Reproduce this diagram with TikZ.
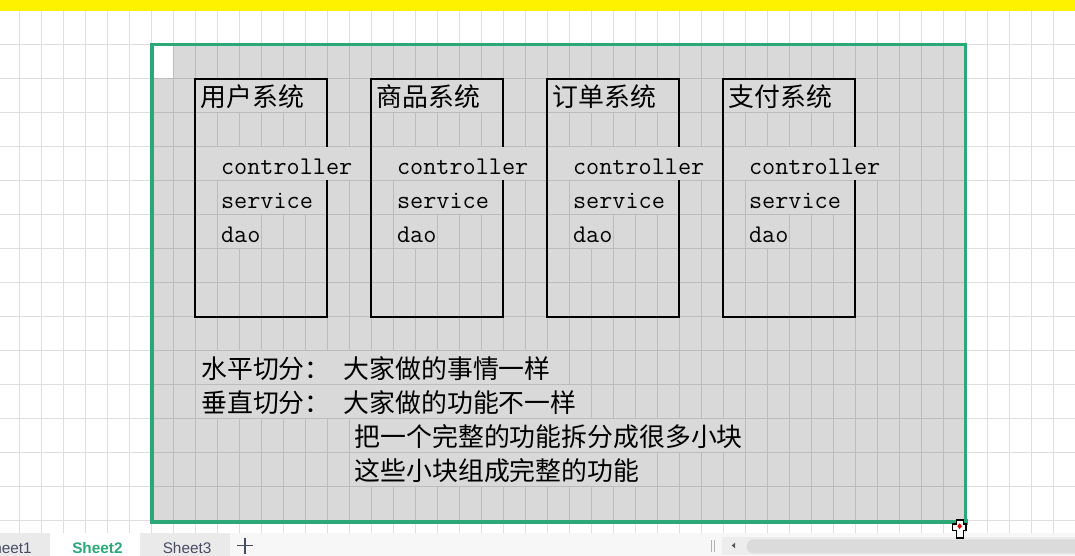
\documentclass[tikz,border=0pt]{standalone}
\usepackage{fontspec}
\newfontfamily\cjk{Noto Sans CJK SC}
\newfontfamily\uifont{Liberation Sans}
\usetikzlibrary{calc}
\definecolor{selgreen}{RGB}{44,167,120}
\definecolor{selgray}{RGB}{217,217,217}
\definecolor{gridlight}{RGB}{222,222,222}
\definecolor{griddark}{RGB}{188,188,188}
\definecolor{tabgray}{RGB}{234,234,234}
\definecolor{barbg}{RGB}{247,247,247}
\definecolor{tabink}{RGB}{72,76,98}
\tikzset{
  % sheet cells and grid
  gridw/.style={draw=gridlight,line width=0.75pt},
  gridg/.style={draw=griddark,line width=0.75pt},
  sysbox/.style={draw=black,line width=1.5pt},
  cjktext/.style={anchor=base west,inner sep=0pt,
    font=\cjk\fontsize{19.4}{22}\selectfont},
  codetext/.style={anchor=base west,inner sep=0pt,
    font=\ttfamily\fontsize{19.1}{22}\selectfont},
  % sheet tabs at the bottom
  tablabel/.style={anchor=base west,inner sep=0pt,text=tabink,
    font=\uifont\fontsize{11.5}{13}\selectfont}
}

\begin{document}
\begin{tikzpicture}[x=0.75pt,y=-0.75pt]
  \useasboundingbox (0,0) rectangle (1075,556);
  \clip (0,0) rectangle (1075,556);
  \fill[white] (0,0) rectangle (1075,556);
  \fill[yellow] (0,0) rectangle (1075,10.7);
  % empty grid
  \foreach \k in {0,...,47}
    \draw[gridw] ({19.33+22*\k},10.7) -- ({19.33+22*\k},533.3);
  \foreach \k in {0,...,14}
    \draw[gridw] (0,{44.7+34*\k}) -- (1075,{44.7+34*\k});
  % selected range
  \fill[selgray] (151.33,44.7) rectangle (965.33,520.7);
  \fill[white] (151.33,44.7) rectangle (173.33,78.7);
  \foreach \k in {1,...,36}
    \draw[gridg] ({151.33+22*\k},44.7) -- ({151.33+22*\k},520.7);
  \foreach \k in {1,...,13}
    \draw[gridg] (151.33,{44.7+34*\k}) -- (965.33,{44.7+34*\k});

  % the four systems
  \foreach \i/\name in {0/用户系统,1/商品系统,2/订单系统,3/支付系统} {
    \pgfmathsetmacro{\L}{195.33+176*\i}
    \draw[sysbox] (\L,78.7) rectangle ({\L+132},316.7);
    \fill[selgray] ({\L+1},79.7) rectangle ({\L+131},112.2);
    \fill[selgray] ({\L+1},147.2) rectangle ({\L+174.5},180.2);
    \fill[selgray] ({\L+22.5},181.2) rectangle ({\L+131},214.2);
    \fill[selgray] ({\L+22.5},215.2) rectangle ({\L+65.5},248.2);
    \node[cjktext] (title\i) at ({\L+5},106.5) {\name};
    \node[codetext] (ctrl\i) at ({\L+25.5},175) {controller};
    \node[codetext] (svc\i) at ({\L+25.5},209) {service};
    \node[codetext] (dao\i) at ({\L+25.5},243) {dao};
  }

  % notes below
  \fill[selgray] (195.83,351.2) rectangle (568.83,384.2);
  \fill[selgray] (195.83,385.2) rectangle (590.83,418.2);
  \fill[selgray] (349.83,419.2) rectangle (744.83,452.2);
  \fill[selgray] (349.83,453.2) rectangle (656.83,486.2);
  \node[cjktext] (horiz) at (201,378.4) {水平切分：};
  \node[cjktext] (horizdesc) at (343.5,378.4) {大家做的事情一样};
  \node[cjktext] (vert) at (201,412.4) {垂直切分：};
  \node[cjktext] (vertdesc) at (343.5,412.4) {大家做的功能不一样};
  \node[cjktext] (split) at (354.5,446.4) {把一个完整的功能拆分成很多小块};
  \node[cjktext] (join) at (354.5,480.4) {这些小块组成完整的功能};

  % selection border and fill handle
  \draw[selgreen,line width=2.3pt] (152,44.7) rectangle (965.3,522);
  \fill[selgreen] (962,518.5) rectangle (967.5,524.5);

  % sheet tabs and scroll bar
  \fill[barbg] (0,533.3) rectangle (1075,556);
  \fill[tabgray] (-60,533.3) rectangle (50,556);
  \fill[white] (50,533.3) rectangle (140,556);
  \fill[tabgray] (140,533.3) rectangle (230,556);
  \node[tablabel,anchor=base east] (sheet1) at (32,553) {Sheet1};
  \node[tablabel,text=selgreen,font=\uifont\bfseries\fontsize{11.5}{13}\selectfont]
    (sheet2) at (72,553) {Sheet2};
  \node[tablabel] (sheet3) at (162.5,553) {Sheet3};
  \draw[tabink,line width=0.9pt] (237,545.7) -- (253,545.7) (245,538) -- (245,553.5);
  \draw[gray!60,line width=0.75pt] (711.7,540) -- (711.7,551.7) (714.7,540) -- (714.7,551.7);
  \fill[gray!14] (721.7,537.3) rectangle (1090,555);
  \fill[gray!70!black] (731.7,545.5) -- (735,542.7) -- (735,548.3) -- cycle;
  \fill[gray!28,rounded corners=5.25pt] (746.7,539.3) rectangle (1100,553.3);

  % mouse pointer
  \filldraw[fill=white,draw=black,line width=0.8pt]
    (956.7,520) -- (963.3,520) -- (963.3,524) -- (966,524) -- (966,530.7)
    -- (963.3,530.7) -- (963.3,538) -- (956.7,538) -- (956.7,530.7)
    -- (952.7,530.7) -- (952.7,524) -- (956.7,524) -- cycle;
  \fill[red!85!black] (959.6,523.3) -- (962,526.2) -- (959.6,529) -- (957.3,526.2) -- cycle;
\end{tikzpicture}
\end{document}
